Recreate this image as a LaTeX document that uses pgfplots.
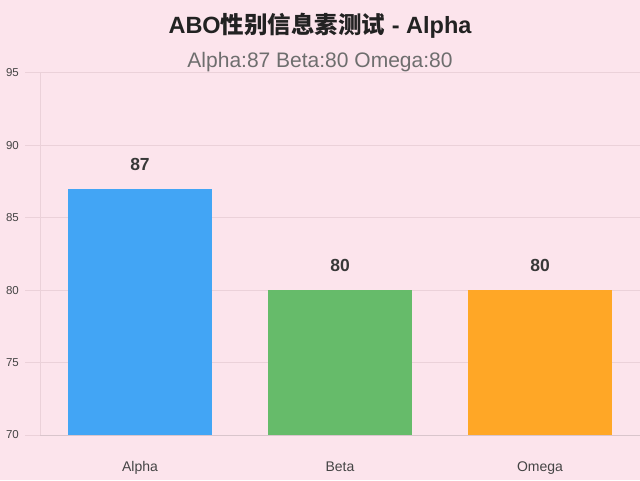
\documentclass[border=0pt]{standalone}
\usepackage{pgfplots}
\pgfplotsset{compat=1.18}
\usepackage{fontspec}
\setmainfont{Liberation Sans}
\newfontfamily\cjk{Noto Sans CJK SC}
\definecolor{bg}{HTML}{FCE4EC}
\definecolor{gridc}{HTML}{EBD1D9}
\definecolor{axisc}{HTML}{D9C5CC}
\definecolor{titlec}{HTML}{222222}
\definecolor{subc}{HTML}{6E6E6E}
\definecolor{tickc}{HTML}{444444}
\definecolor{valc}{HTML}{383838}
\definecolor{alphac}{HTML}{42A5F5}
\definecolor{betac}{HTML}{66BB6A}
\definecolor{omegac}{HTML}{FFA726}
\begin{document}
\begin{tikzpicture}[x=1pt,y=1pt]
\fill[bg] (0,0) rectangle (640,480);
\useasboundingbox (0,0) rectangle (640,480);
\node[font=\fontsize{23.5}{28}\selectfont\bfseries, text=titlec] at (320,454.5) {ABO{\cjk\bfseries 性别信息素测试} - Alpha};
\node[font=\fontsize{21}{25}\selectfont, text=subc] at (320,418) {Alpha:87 Beta:80 Omega:80};
\begin{axis}[
	at = {(40pt,45pt)},
	anchor = south west,
	scale only axis,
	width = 600pt,
	height = 362pt,
	xmin = -0.5, xmax = 2.5,
	ymin = 70, ymax = 95,
	ytick = {70,75,...,95},
	xtick = {0,1,2},
	xticklabels = {Alpha,Beta,Omega},
	/pgf/number format/assume math mode = true,
	ybar,
	bar width = 144pt,
	bar shift = 0pt,
	axis lines* = left,
	x axis line style = {draw=axisc, line width=1pt, -},
	y axis line style = {draw=gridc, line width=1pt, -},
	ymajorgrids,
	grid style = {draw=gridc, line width=1pt},
	tick align = outside,
	major tick length = 15pt,
	tick style = {draw=gridc, line width=1pt},
	xtick style = {draw=none},
	yticklabel style = {font=\fontsize{11.5}{12}\selectfont, text=tickc, inner sep=0pt, xshift=-6pt},
	xticklabel style = {font=\fontsize{14}{16}\selectfont, text=tickc, inner sep=0pt, anchor=base, yshift=-21pt},
	nodes near coords,
	every node near coord/.append style = {font=\fontsize{17.5}{20}\selectfont\bfseries, text=valc, inner sep=0pt, yshift=18pt},
]
\addplot[fill=alphac, draw=none] coordinates {(0,87)};
\addplot[fill=betac, draw=none] coordinates {(1,80)};
\addplot[fill=omegac, draw=none] coordinates {(2,80)};
\end{axis}
\end{tikzpicture}
\end{document}
